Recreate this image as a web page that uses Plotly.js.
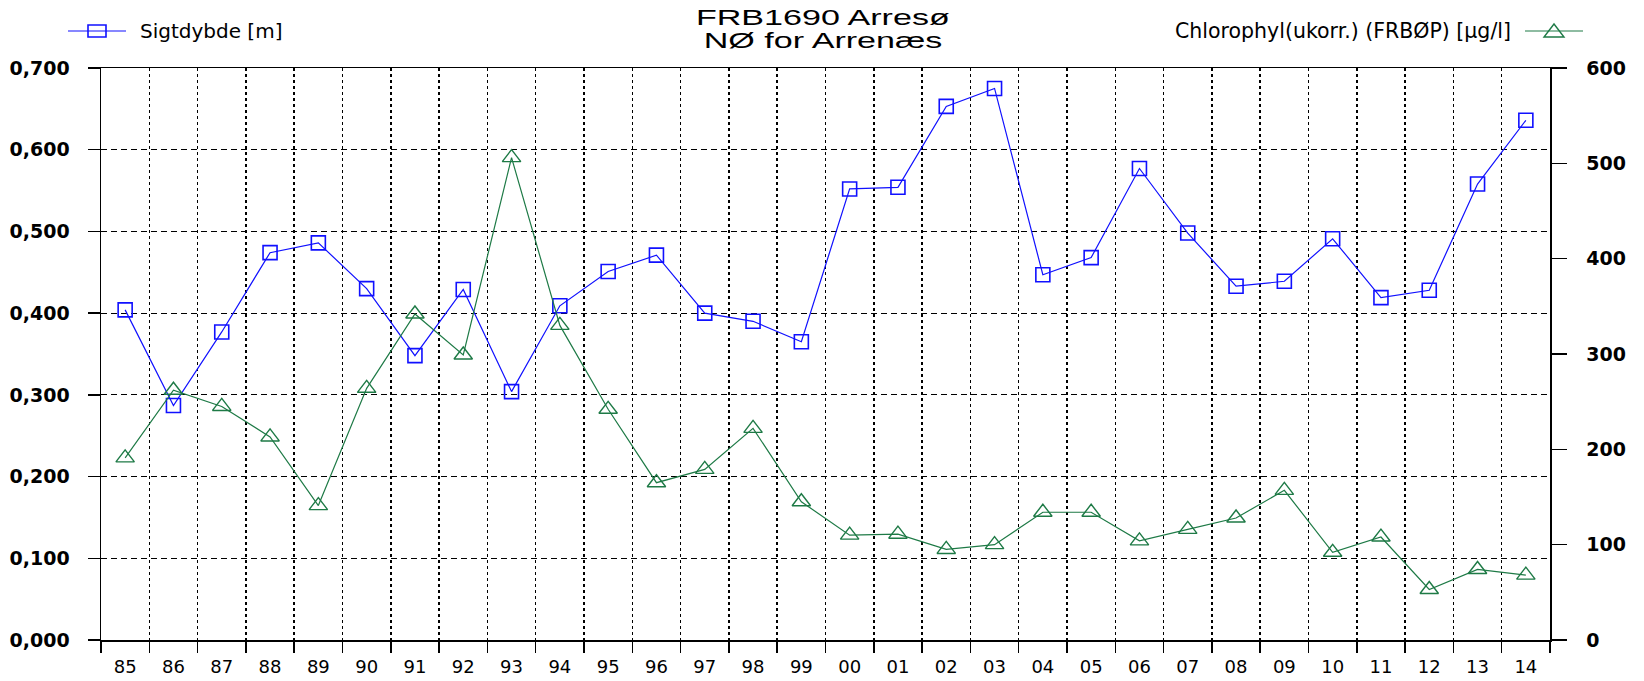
<!DOCTYPE html>
<html>
<head>
<meta charset="utf-8">
<script src="https://cdn.plot.ly/plotly-3.0.1.min.js"></script>
<style>html,body{margin:0;padding:0;background:#fff;}#chart{width:1644px;height:681px;}</style>
</head>
<body>
<div id="chart"></div>
<script>
const years = ['85','86','87','88','89','90','91','92','93','94','95','96','97','98','99','00','01','02','03','04','05','06','07','08','09','10','11','12','13','14'];
const sigtdybde = [0.404,0.287,0.377,0.474,0.486,0.430,0.348,0.429,0.304,0.409,0.451,0.471,0.400,0.390,0.365,0.552,0.554,0.653,0.675,0.447,0.468,0.577,0.498,0.433,0.439,0.491,0.419,0.428,0.558,0.636];
const chlorophyl = [191,262,245,213,141,264,342,299,506,330,242,165,179,222,145,110,111,95,100,134,134,104,116,128,157,92,108,53,74,68];
const leftTicks = [0,0.1,0.2,0.3,0.4,0.5,0.6,0.7];
const rightTicks = [0,100,200,300,400,500,600];
const titleLines = ['FRB1690 Arresø', 'NØ for Arrenæs'];
const name1 = 'Sigtdybde [m]';
const name2 = 'Chlorophyl(ukorr.) (FRBØP) [µg/l]';

const W = 1644, H = 681;
const L = 101, R = 1550, T = 68, B = 640;
const blue = '#1010ff', green = '#1e7a46';
const px = x => (x - L) / (R - L);
const py = y => (B - y) / (B - T);

const FONT = '"DejaVu Sans", Verdana, sans-serif';
const TFONT = '"Liberation Sans", Arial, sans-serif';
const TITLE_STRETCH = 1.55;

const traces = [
  {x: years, y: sigtdybde, name: name1, type: 'scatter', mode: 'lines+markers',
   line: {color: blue, width: 1.2},
   marker: {symbol: 'square-open', size: 14, color: blue, line: {width: 1.6, color: blue}},
   yaxis: 'y', showlegend: false},
  {x: years, y: chlorophyl, name: name2, type: 'scatter', mode: 'lines+markers',
   line: {color: green, width: 1.2},
   marker: {symbol: 'triangle-up-open', size: 16, color: green, line: {width: 1.4, color: green}},
   yaxis: 'y2', showlegend: false}
];

// legend samples (paper coordinates)
const legY = 31;
const shapes = [
  {type: 'line', xref: 'paper', yref: 'paper', x0: px(68), x1: px(126), y0: py(legY), y1: py(legY), line: {color: blue, width: 1.2}},
  {type: 'rect', xref: 'paper', yref: 'paper', x0: px(88), x1: px(106), y0: py(legY - 6), y1: py(legY + 6), line: {color: blue, width: 1.6}},
  {type: 'line', xref: 'paper', yref: 'paper', x0: px(1525), x1: px(1583), y0: py(legY), y1: py(legY), line: {color: green, width: 1.2}},
  {type: 'path', xref: 'paper', yref: 'paper',
   path: 'M' + px(1554) + ',' + py(legY - 7) + ' L' + px(1544) + ',' + py(legY + 6) + ' L' + px(1564) + ',' + py(legY + 6) + ' Z',
   line: {color: green, width: 1.4}}
];

const annotations = [
  {xref: 'paper', yref: 'paper', x: px(138), y: py(legY), xanchor: 'left', yanchor: 'middle', showarrow: false,
   text: name1, font: {family: FONT, size: 20, color: '#000'}},
  {xref: 'paper', yref: 'paper', x: px(1513), y: py(legY), xanchor: 'right', yanchor: 'middle', showarrow: false,
   text: name2, font: {family: FONT, size: 20.5, color: '#000'}},
  {xref: 'paper', yref: 'paper', x: px(823), y: py(17), xanchor: 'center', yanchor: 'middle', showarrow: false,
   text: titleLines[0], font: {family: TFONT, size: 22, color: '#000'}},
  {xref: 'paper', yref: 'paper', x: px(823), y: py(40), xanchor: 'center', yanchor: 'middle', showarrow: false,
   text: titleLines[1], font: {family: TFONT, size: 22, color: '#000'}}
];

const layout = {
  width: W, height: H,
  margin: {l: L, r: W - R, t: T, b: H - B, pad: 0},
  paper_bgcolor: '#fff', plot_bgcolor: '#fff',
  separators: ',.',
  font: {family: FONT, color: '#000'},
  xaxis: {type: 'category', range: [-0.5, 29.5], tickson: 'boundaries',
          showgrid: true, gridcolor: '#000', gridwidth: 1.5, griddash: 'dot',
          showline: true, linecolor: '#000', linewidth: 1.5, mirror: true,
          ticks: 'outside', ticklen: 11, tickwidth: 1.5, tickcolor: '#000',
          ticklabelstandoff: 10, tickfont: {family: FONT, size: 18, color: '#000'},
          zeroline: false, fixedrange: true},
  yaxis: {range: [0, 0.7], tickvals: leftTicks, tickformat: '.3f',
          showgrid: true, gridcolor: '#000', gridwidth: 1, griddash: '6px,4px',
          showline: true, linecolor: '#000', linewidth: 1.5,
          ticks: 'outside', ticklen: 12, tickwidth: 1.5, tickcolor: '#000',
          ticklabelstandoff: 14, tickfont: {family: FONT, size: 19, color: '#000', weight: 'bold'},
          zeroline: false, fixedrange: true},
  yaxis2: {range: [0, 600], tickvals: rightTicks, overlaying: 'y', side: 'right',
           showgrid: false, showline: true, linecolor: '#000', linewidth: 1.5,
           ticks: 'outside', ticklen: 15, tickwidth: 1.5, tickcolor: '#000',
           ticklabelstandoff: 16, tickfont: {family: FONT, size: 19, color: '#000', weight: 'bold'},
           zeroline: false, fixedrange: true},
  shapes: shapes,
  annotations: annotations,
  showlegend: false
};

Plotly.newPlot('chart', traces, layout, {displayModeBar: false, staticPlot: true}).then(gd => {
  // the reference title is drawn horizontally stretched: widen the two title lines about their centres
  gd.querySelectorAll('g.annotation').forEach(g => {
    const idx = g.getAttribute('data-index');
    if (idx === '2' || idx === '3') {
      const bb = g.getBBox();
      const cx = bb.x + bb.width / 2;
      g.setAttribute('transform', 'translate(' + cx + ',0) scale(' + TITLE_STRETCH + ',1) translate(' + (-cx) + ',0)');
    }
  });
});
</script>
</body>
</html>
